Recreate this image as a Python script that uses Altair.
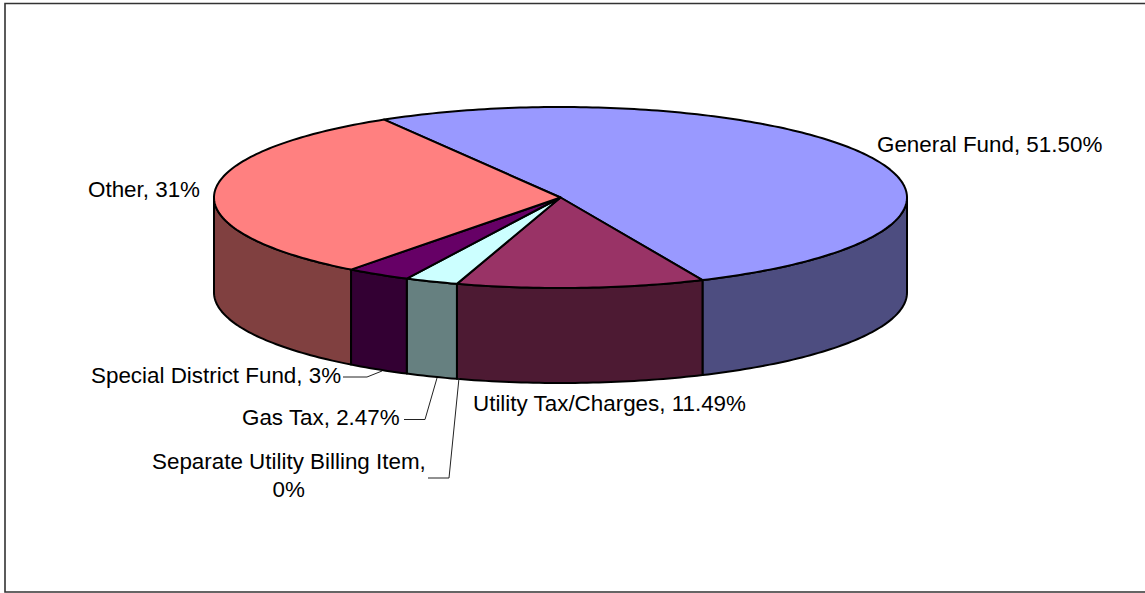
import math
import altair as alt
import pandas as pd

# Slices in drawing order, clockwise from the first edge
names = ["General Fund", "Utility Tax/Charges", "Separate Utility Billing Item",
         "Gas Tax", "Special District Fund", "Other"]
shares = [51.50, 11.49, 0.0, 2.47, 3.0, 31.0]
top_colors = ["#9999FF", "#993366", "#FFFFCC", "#CCFFFF", "#660066", "#FF8080"]
side_colors = ["#4D4D80", "#4D1A33", "#808066", "#668080", "#330033", "#804040"]

label_text = ["General Fund, 51.50%", "Other, 31%", "Special District Fund, 3%", "Gas Tax, 2.47%",
              "Separate Utility Billing Item,", "0%", "Utility Tax/Charges, 11.49%"]
label_left = [877, 88, 91, 242, 152, 272.5, 473]
label_mid = [145, 190, 376, 418, 462, 490, 404]

leader_runs = [
    [(343, 377), (367, 377), (382, 371)],
    [(404, 419.5), (425, 419.5), (437, 378)],
    [(428, 478), (449, 478), (459, 378)],
]
frame_run = [(1146, 3.5), (5, 3.5), (5, 592), (1146, 592)]

W, H = 1145, 593
CX, CY, RX, RY, DEPTH = 560.5, 197.5, 346.5, 90.5, 95
FIRST_EDGE = -30.6
PROJ = dict(type="identity", scale=1, translate=[0, 0])


def rim(deg, drop=0.0):
    a = math.radians(deg)
    return [CX + RX * math.sin(a), CY - RY * math.cos(a) + drop]


def sweep(a, b, drop=0.0):
    n = max(2, int(abs(b - a)) + 2)
    return [rim(a + (b - a) * i / (n - 1), drop) for i in range(n)]


def feature(kind, coords, color):
    return {"type": "Feature", "properties": {"color": color},
            "geometry": {"type": kind, "coordinates": coords}}


total = sum(shares)
tops, walls = [], []
start = FIRST_EDGE
for share, top, side in zip(shares, top_colors, side_colors):
    end = start + 360 * share / total
    if share > 0:
        ring = [[CX, CY]] + sweep(start, end) + [[CX, CY]]
        tops.append(feature("Polygon", [ring], top))
        lo, hi = max(start, 90), min(end, 270)
        if hi > lo:
            front = sweep(lo, hi)
            back = sweep(hi, lo, DEPTH)
            walls.append(feature("Polygon", [front + back + [front[0]]], side))
    start = end

wall_layer = alt.Chart(alt.Data(values=walls)).mark_geoshape(
    stroke="black", strokeWidth=2, strokeJoin="round"
).encode(fill=alt.Color("properties.color:N", scale=None)).project(**PROJ)

top_layer = alt.Chart(alt.Data(values=tops)).mark_geoshape(
    stroke="black", strokeWidth=2, strokeJoin="round"
).encode(fill=alt.Color("properties.color:N", scale=None)).project(**PROJ)

leaders = [feature("LineString", [list(p) for p in run], "#000000") for run in leader_runs]
leader_layer = alt.Chart(alt.Data(values=leaders)).mark_geoshape(
    filled=False, stroke="#222222", strokeWidth=1
).project(**PROJ)

frame = [feature("LineString", [list(p) for p in frame_run], "#000000")]
frame_layer = alt.Chart(alt.Data(values=frame)).mark_geoshape(
    filled=False, stroke="#333333", strokeWidth=1.6
).project(**PROJ)

labels = pd.DataFrame({"text": label_text, "lon": label_left, "lat": label_mid})
label_layer = alt.Chart(labels).mark_text(
    align="left", baseline="middle", font="Liberation Sans", fontSize=22.4, color="black"
).encode(longitude="lon:Q", latitude="lat:Q", text="text:N").project(**PROJ)

chart = alt.layer(frame_layer, wall_layer, top_layer, leader_layer, label_layer).properties(
    width=W, height=H, padding=0, autosize=alt.AutoSizeParams(type="none"), background="white"
).configure_view(stroke=None)

chart.save("out.html", embed_options={"renderer": "svg", "actions": False})
